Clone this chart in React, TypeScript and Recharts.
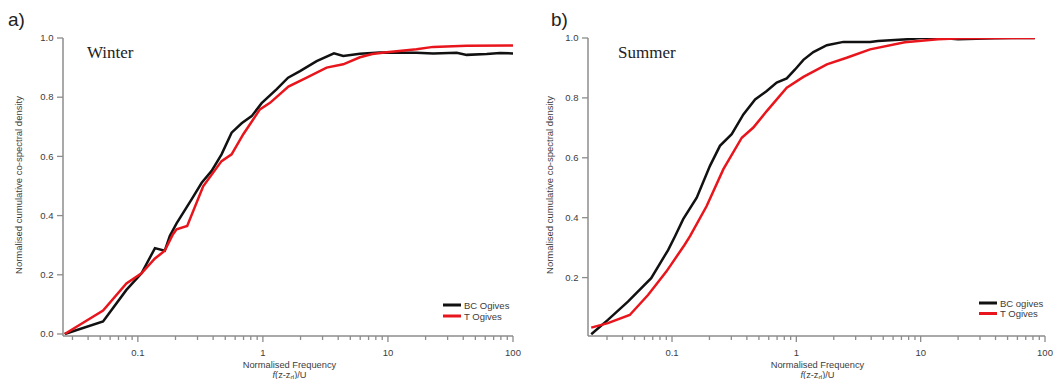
import { LineChart, Line, XAxis, YAxis } from 'recharts'

// Winter ogives (panel a)
const winterBcFreq = [0.026, 0.0527, 0.081, 0.107, 0.137, 0.164, 0.18, 0.204, 0.269, 0.324, 0.389, 0.467, 0.562, 0.676, 0.813, 0.977, 1.29, 1.59, 1.98, 2.69, 3.7, 4.39, 5.97, 8.6, 16.9, 23, 35.5, 42.6, 61.6, 78.7, 100]
const winterBcValue = [0, 0.042, 0.149, 0.205, 0.29, 0.281, 0.331, 0.374, 0.455, 0.511, 0.551, 0.607, 0.68, 0.712, 0.736, 0.78, 0.827, 0.866, 0.888, 0.922, 0.948, 0.939, 0.947, 0.951, 0.95, 0.948, 0.95, 0.943, 0.946, 0.949, 0.948]
const winterTFreq = [0.026, 0.0527, 0.081, 0.107, 0.137, 0.164, 0.191, 0.204, 0.248, 0.333, 0.467, 0.562, 0.697, 0.946, 1.14, 1.6, 2.24, 3.23, 4.39, 5.97, 7.5, 9.76, 16.9, 23, 42.6, 100]
const winterTValue = [0, 0.079, 0.171, 0.205, 0.255, 0.281, 0.337, 0.354, 0.365, 0.499, 0.584, 0.607, 0.675, 0.759, 0.781, 0.836, 0.866, 0.9, 0.911, 0.935, 0.946, 0.952, 0.962, 0.97, 0.974, 0.975]

// Summer ogives (panel b)
const summerBcFreq = [0.0224, 0.0305, 0.0442, 0.068, 0.093, 0.106, 0.123, 0.158, 0.202, 0.243, 0.302, 0.375, 0.466, 0.578, 0.695, 0.837, 0.977, 1.14, 1.37, 1.76, 2.39, 3.92, 4.54, 6.17, 7.92, 10.1, 14.7, 20, 39.4, 53.7, 82.8]
const summerBcValue = [0.011, 0.059, 0.12, 0.198, 0.292, 0.339, 0.395, 0.467, 0.573, 0.64, 0.679, 0.745, 0.795, 0.823, 0.851, 0.865, 0.895, 0.927, 0.953, 0.976, 0.987, 0.987, 0.99, 0.993, 0.996, 1.0, 1.0, 0.996, 0.999, 1.0, 1.0]
const summerTFreq = [0.0224, 0.0305, 0.0457, 0.0641, 0.09, 0.126, 0.14, 0.19, 0.259, 0.364, 0.451, 0.578, 0.837, 1.14, 1.76, 2.54, 3.92, 7.45, 13.8, 21.3, 82.8]
const summerTValue = [0.033, 0.048, 0.075, 0.142, 0.22, 0.309, 0.339, 0.439, 0.562, 0.667, 0.701, 0.756, 0.834, 0.87, 0.912, 0.934, 0.962, 0.986, 0.996, 0.999, 1.0]

const xTicks = [
  0.03, 0.04, 0.05, 0.06, 0.07, 0.08, 0.09, 0.1,
  0.2, 0.3, 0.4, 0.5, 0.6, 0.7, 0.8, 0.9, 1,
  2, 3, 4, 5, 6, 7, 8, 9, 10,
  20, 30, 40, 50, 60, 70, 80, 90, 100,
]
const majorTicks = [0.1, 1, 10, 100]
const winterYTicks = [0, 0.2, 0.4, 0.6, 0.8, 1]
const summerYTicks = [0.2, 0.4, 0.6, 0.8, 1]

const AXIS = '#8c8c8c'
const TEXT = '#3c3c3c'
const BLACK = '#111111'
const RED = '#e8161c'
const SANS = '"Liberation Sans", Arial, sans-serif'
const SERIF = '"Liberation Serif", "Times New Roman", serif'

const toPoints = (f: number[], v: number[]) => f.map((x, i) => ({ f: x, v: v[i] }))

function XTick(props: any) {
  const { x, y, payload } = props
  const major = majorTicks.includes(payload.value)
  return (
    <g>
      <line x1={x} x2={x} y1={y} y2={y + (major ? 6 : 4)} stroke={AXIS} strokeWidth={1.3} />
      {major && (
        <text x={x} y={y + 20} textAnchor="middle" fontSize={9.5} fontFamily={SANS} fill={TEXT}>
          {String(payload.value)}
        </text>
      )}
    </g>
  )
}

function YTick(props: any) {
  const { x, y, payload } = props
  return (
    <g>
      <line x1={x - 6} x2={x} y1={y} y2={y} stroke={AXIS} strokeWidth={1.3} />
      <text x={x - 9.5} y={y + 3.3} textAnchor="end" fontSize={9.5} fontFamily={SANS} fill={TEXT}>
        {payload.value.toFixed(1)}
      </text>
    </g>
  )
}

interface PanelProps {
  left: number
  marginLeft: number
  marginRight: number
  xDomain: [number, number]
  yDomain: [number, number]
  yTicks: number[]
  bc: { f: number; v: number }[]
  t: { f: number; v: number }[]
}

function Panel({ left, marginLeft, marginRight, xDomain, yDomain, yTicks, bc, t }: PanelProps) {
  return (
    <div style={{ position: 'absolute', left, top: 0 }}>
      <LineChart width={530} height={379} margin={{ top: 38, right: marginRight, bottom: 13, left: marginLeft }}>
        <XAxis
          dataKey="f"
          type="number"
          scale="log"
          domain={xDomain}
          allowDataOverflow
          ticks={xTicks}
          interval={0}
          tickSize={0}
          tickMargin={0}
          tick={<XTick />}
          height={30}
          axisLine={{ stroke: AXIS, strokeWidth: 1.5 }}
        />
        <YAxis
          type="number"
          domain={yDomain}
          allowDataOverflow
          ticks={yTicks}
          interval={0}
          tickSize={0}
          tickMargin={0}
          tick={<YTick />}
          width={40}
          axisLine={{ stroke: AXIS, strokeWidth: 1.5 }}
        />
        <Line data={bc} dataKey="v" type="linear" stroke={BLACK} strokeWidth={2.5} dot={false} isAnimationActive={false} />
        <Line data={t} dataKey="v" type="linear" stroke={RED} strokeWidth={2.5} dot={false} isAnimationActive={false} />
      </LineChart>
    </div>
  )
}

function AxisTitles({ cx, yLabelX }: { cx: number; yLabelX: number }) {
  return (
    <g fontFamily={SANS} fill={TEXT}>
      <text x={yLabelX} y={185} fontSize={9.5} textAnchor="middle" transform={`rotate(-90 ${yLabelX} 185)`}>
        Normalised cumulative co-spectral density
      </text>
      <text x={cx} y={367.5} fontSize={9.3} textAnchor="middle">Normalised Frequency</text>
      <text x={cx} y={377.5} fontSize={9.3} textAnchor="middle">
        <tspan fontStyle="italic">f</tspan>
        <tspan>(z-z</tspan>
        <tspan fontSize={6.5} dy={2}>d</tspan>
        <tspan dy={-2}>)/U</tspan>
      </text>
    </g>
  )
}

function LegendBox({ x, y, gap, bcName }: { x: number; y: number; gap: number; bcName: string }) {
  return (
    <g fontFamily={SANS} fontSize={9.5} fill={TEXT}>
      <line x1={x} x2={x + 18} y1={y} y2={y} stroke={BLACK} strokeWidth={3} />
      <text x={x + 21} y={y + 3.5}>{bcName}</text>
      <line x1={x} x2={x + 18} y1={y + gap} y2={y + gap} stroke={RED} strokeWidth={3} />
      <text x={x + 21} y={y + gap + 3.5}>T Ogives</text>
    </g>
  )
}

export default function App() {
  return (
    <div style={{ position: 'absolute', left: 0, top: 0, width: 1058, height: 379, background: '#fff', overflow: 'hidden' }}>
      <Panel
        left={0}
        marginLeft={23}
        marginRight={17}
        xDomain={[0.0252, 100]}
        yDomain={[-0.0068, 1]}
        yTicks={winterYTicks}
        bc={toPoints(winterBcFreq, winterBcValue)}
        t={toPoints(winterTFreq, winterTValue)}
      />
      <Panel
        left={528}
        marginLeft={20}
        marginRight={13}
        xDomain={[0.0211, 100]}
        yDomain={[0.005, 1]}
        yTicks={summerYTicks}
        bc={toPoints(summerBcFreq, summerBcValue)}
        t={toPoints(summerTFreq, summerTValue)}
      />
      <svg width={1058} height={379} style={{ position: 'absolute', left: 0, top: 0, pointerEvents: 'none' }}>
        <text x={8} y={26} fontSize={19} fontFamily={SANS} fill="#222">a)</text>
        <text x={551} y={26} fontSize={19} fontFamily={SANS} fill="#222">b)</text>
        <text x={87} y={58} fontSize={17} fontFamily={SERIF} fill="#222">Winter</text>
        <text x={618} y={58} fontSize={17} fontFamily={SERIF} fill="#222">Summer</text>
        <AxisTitles cx={289.5} yLabelX={22} />
        <AxisTitles cx={817.5} yLabelX={552.5} />
        <LegendBox x={443} y={305} gap={11} bcName="BC Ogives" />
        <LegendBox x={979} y={303} gap={10.5} bcName="BC ogives" />
      </svg>
    </div>
  )
}
